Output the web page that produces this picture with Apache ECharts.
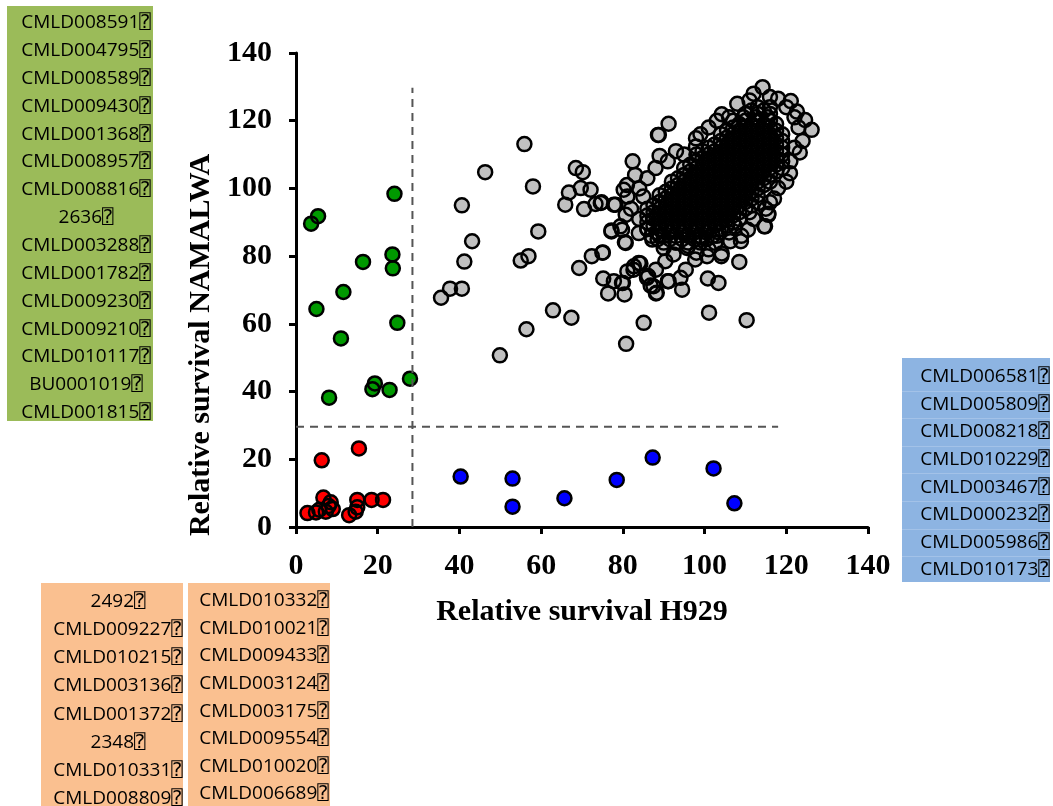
<!DOCTYPE html>
<html>
<head>
<meta charset="utf-8">
<title>Relative survival H929 vs NAMALWA</title>
<script src="https://cdn.jsdelivr.net/npm/echarts@6/dist/echarts.min.js"></script>
<style>
  html, body { margin: 0; padding: 0; background: #fff; }
  #chart { width: 1053px; height: 806px; }
</style>
</head>
<body>
<div id="chart"></div>
<script>
// axis setup
var axisMin = 0;
var axisMax = 140;
var axisStep = 20;

// cut-off lines (H929 ~28.5%, NAMALWA ~29.8%)
var cutX = [[28.5, 0], [28.5, 129.7]];
var cutY = [[0, 29.6], [118, 29.6]];

// hits: sensitive in both lines
var redPoints = [
  [6.3, 19.7], [15.4, 23.2], [2.8, 4.1], [6.7, 8.7], [8.5, 7.3], [5.7, 5.1],
  [7.3, 4.5], [9.0, 5.3], [13.0, 3.5], [14.6, 4.5], [15.0, 5.8], [15.0, 8.0],
  [18.5, 8.0], [21.3, 8.0], [4.9, 4.3], [8.0, 6.2]
];

// sensitive in H929 only
var greenPoints = [
  [24.1, 98.4], [3.7, 89.6], [5.4, 91.8], [16.4, 78.3], [23.6, 80.5],
  [23.7, 76.4], [11.6, 69.4], [5.0, 64.4], [24.8, 60.3], [11.0, 55.7],
  [8.1, 38.2], [18.7, 40.7], [19.3, 42.4], [22.9, 40.5], [27.9, 43.8]
];

// sensitive in NAMALWA only
var bluePoints = [
  [40.3, 14.9], [53.0, 14.3], [53.0, 6.0], [65.7, 8.5],
  [78.5, 13.9], [87.3, 20.5], [102.2, 17.3], [107.3, 7.0]
];

// everything else, scattered points
var greyPoints = [
  [55.9, 113.1], [46.3, 104.8], [40.6, 95.0], [58.0, 100.6], [68.5, 106.0], [70.2, 104.8],
  [66.8, 98.8], [69.7, 100.1], [72.1, 99.6], [65.9, 95.2], [70.5, 93.9], [73.3, 95.4],
  [74.6, 95.7], [82.4, 108.0], [88.8, 115.8], [91.2, 119.1], [89.0, 109.6], [43.1, 84.4],
  [41.2, 78.4], [59.3, 87.3], [55.0, 78.7], [56.9, 80.0], [37.7, 70.4], [40.6, 70.4],
  [35.5, 67.7], [62.9, 64.0], [67.4, 61.8], [56.4, 58.4], [49.9, 50.7], [69.3, 76.5],
  [72.4, 80.0], [75.0, 81.0], [75.2, 73.4], [76.4, 69.0], [77.8, 72.6], [80.4, 68.7],
  [80.0, 72.1], [85.1, 60.3], [80.8, 54.1], [77.2, 87.3], [80.7, 83.9], [79.4, 88.8],
  [80.7, 92.2], [78.2, 95.2], [80.2, 99.6], [81.1, 97.6], [85.0, 97.6], [83.9, 78.0],
  [82.6, 76.0], [86.2, 74.1], [87.5, 71.1], [88.3, 69.2], [91.2, 72.6], [94.1, 73.6],
  [94.5, 70.1], [95.4, 76.0], [90.4, 78.5], [88.1, 76.0],
  [114.2, 129.9], [88.6, 115.8], [126.2, 117.3], [123.3, 110.6], [120.9, 104.5],
  [118.0, 100.1], [115.6, 92.5], [114.6, 88.8], [108.5, 78.3], [103.4, 72.1], [100.8, 73.4],
  [101.1, 63.3], [110.3, 61.1], [121.1, 125.8], [91.0, 72.6], [88.1, 69.0], [104.1, 80.0],
  [110.6, 87.8], [104.2, 121.9], [97.9, 114.8], [97.9, 112.4], [124.6, 120.2], [122.6, 122.7],
  [86.8, 71.3], [85.9, 73.6], [79.8, 72.1], [81.1, 75.5], [82.7, 77.0], [84.3, 77.8],
  [92.4, 80.5], [75.1, 81.1], [74.8, 95.9], [77.8, 95.2], [77.2, 87.6], [80.5, 84.1],
  [79.8, 87.8], [83.9, 86.8], [87.2, 84.9], [90.0, 82.4], [95.7, 82.4], [97.7, 79.0],
  [99.3, 85.4], [100.6, 80.0], [102.6, 83.9], [104.2, 80.8], [106.3, 84.4], [108.9, 84.4],
  [107.5, 88.8], [114.8, 88.8], [115.6, 92.2], [116.0, 95.9], [113.2, 95.7],
  [84.0, 100.0], [86.0, 103.0], [88.0, 106.0], [91.0, 108.0], [93.0, 111.0], [95.0, 110.0],
  [99.0, 116.0], [101.0, 118.0], [103.0, 120.0], [106.0, 121.0], [108.0, 125.0], [111.0, 126.0],
  [112.0, 128.0], [116.0, 127.0], [118.0, 126.5], [120.0, 124.0], [122.0, 121.0], [123.0, 118.0],
  [124.0, 114.0], [122.0, 112.0], [121.0, 108.0], [120.0, 102.0], [119.0, 106.0],
  [117.0, 97.0], [115.0, 94.0], [112.0, 91.0], [111.0, 93.0], [109.0, 86.0], [106.0, 87.0],
  [103.0, 86.0], [101.0, 82.0], [98.0, 81.0], [96.0, 83.0], [93.0, 84.0], [89.0, 86.0],
  [86.0, 88.0], [84.0, 91.0], [82.0, 94.0], [81.0, 101.0], [83.0, 104.0]
];

// dense core of the cloud, one row of H929 values per NAMALWA level
var greyCoreRows = [
  [84, [90, 93, 96, 99]],
  [85, [88.5, 91.5, 94.5, 97.5, 100.5]],
  [86, [87, 90, 93, 96, 99, 102]],
  [87, [88.5, 91.5, 94.5, 97.5, 100.5, 103.5]],
  [88, [86, 89, 92, 95, 98, 101, 104]],
  [89, [87.5, 90.5, 93.5, 96.5, 99.5, 102.5, 105.5]],
  [90, [86, 89, 92, 95, 98, 101, 104, 107]],
  [91, [87.5, 90.5, 93.5, 96.5, 99.5, 102.5, 105.5, 108.5]],
  [92, [86, 89, 92, 95, 98, 101, 104, 107]],
  [93, [87.5, 90.5, 93.5, 96.5, 99.5, 102.5, 105.5, 108.5]],
  [94, [86, 89, 92, 95, 98, 101, 104, 107, 110]],
  [95, [87.5, 90.5, 93.5, 96.5, 99.5, 102.5, 105.5, 108.5, 111.5]],
  [96, [89, 92, 95, 98, 101, 104, 107, 110]],
  [97, [90.5, 93.5, 96.5, 99.5, 102.5, 105.5, 108.5, 111.5]],
  [98, [89, 92, 95, 98, 101, 104, 107, 110, 113]],
  [99, [90.5, 93.5, 96.5, 99.5, 102.5, 105.5, 108.5, 111.5]],
  [100, [92, 95, 98, 101, 104, 107, 110, 113]],
  [101, [93.5, 96.5, 99.5, 102.5, 105.5, 108.5, 111.5, 114.5]],
  [102, [92, 95, 98, 101, 104, 107, 110, 113, 116]],
  [103, [93.5, 96.5, 99.5, 102.5, 105.5, 108.5, 111.5, 114.5]],
  [104, [95, 98, 101, 104, 107, 110, 113, 116]],
  [105, [96.5, 99.5, 102.5, 105.5, 108.5, 111.5, 114.5, 117.5]],
  [106, [95, 98, 101, 104, 107, 110, 113, 116]],
  [107, [96.5, 99.5, 102.5, 105.5, 108.5, 111.5, 114.5, 117.5]],
  [108, [98, 101, 104, 107, 110, 113, 116, 119]],
  [109, [99.5, 102.5, 105.5, 108.5, 111.5, 114.5, 117.5]],
  [110, [98, 101, 104, 107, 110, 113, 116, 119]],
  [111, [99.5, 102.5, 105.5, 108.5, 111.5, 114.5, 117.5]],
  [112, [101, 104, 107, 110, 113, 116, 119]],
  [113, [102.5, 105.5, 108.5, 111.5, 114.5, 117.5]],
  [114, [104, 107, 110, 113, 116, 119]],
  [115, [105.5, 108.5, 111.5, 114.5, 117.5]],
  [116, [104, 107, 110, 113, 116, 119]],
  [117, [105.5, 108.5, 111.5, 114.5, 117.5]],
  [118, [107, 110, 113, 116]],
  [119, [108.5, 111.5, 114.5, 117.5]],
  [120, [107, 110, 113, 116]],
  [121, [109.5, 112.5, 115.5]],
  [122, [110, 113, 116]],
  [123, [111.5, 114.5]],
  [124, [113, 116]]
];

// compound lists next to the plot
var greenLabels = [
  "CMLD008591⍰", "CMLD004795⍰", "CMLD008589⍰", "CMLD009430⍰", "CMLD001368⍰",
  "CMLD008957⍰", "CMLD008816⍰", "2636⍰", "CMLD003288⍰", "CMLD001782⍰",
  "CMLD009230⍰", "CMLD009210⍰", "CMLD010117⍰", "BU0001019⍰", "CMLD001815⍰"
];
var blueLabels = [
  "CMLD006581⍰", "CMLD005809⍰", "CMLD008218⍰", "CMLD010229⍰",
  "CMLD003467⍰", "CMLD000232⍰", "CMLD005986⍰", "CMLD010173⍰"
];
var redLabelsLeft = [
  "2492⍰", "CMLD009227⍰", "CMLD010215⍰", "CMLD003136⍰",
  "CMLD001372⍰", "2348⍰", "CMLD010331⍰", "CMLD008809⍰"
];
var redLabelsRight = [
  "CMLD010332⍰", "CMLD010021⍰", "CMLD009433⍰", "CMLD003124⍰",
  "CMLD003175⍰", "CMLD009554⍰", "CMLD010020⍰", "CMLD006689⍰"
];

var serif = "'Liberation Serif', 'DejaVu Serif', serif";
var listFont = "'Open Sans', 'DejaVu Sans', 'DejaVu Sans Mono', sans-serif";

var greyAll = greyCoreRows.flatMap(function (row) {
  return row[1].map(function (x) { return [x, row[0]]; });
}).concat(greyPoints);

function fillSeries(data, color) {
  return {
    type: "scatter",
    data: data,
    symbolSize: 14,
    itemStyle: { color: color, borderWidth: 0, opacity: 1 },
    silent: true,
  };
}

// outlines go in their own series so they sit over all fills (like the original)
function ringSeries(data) {
  return {
    type: "scatter",
    data: data,
    symbolSize: 14,
    itemStyle: {
      color: "rgba(0,0,0,0)",
      borderColor: "#000",
      borderWidth: 2.5,
      opacity: 1,
    },
    silent: true,
  };
}

function dashSeries(data) {
  return {
    type: "line",
    data: data,
    symbol: "none",
    silent: true,
    lineStyle: { color: "#555", width: 2, type: [8, 6] },
  };
}

function listBox(x, y, w, h, fill, labels, cx, firstY, step, rules) {
  var items = [
    { type: "rect", shape: { x: x, y: y, width: w, height: h }, style: { fill: fill }, silent: true },
  ];
  if (rules) {
    for (var k = 1; k < labels.length; k++) {
      var ly = Math.round(firstY + (k - 0.5) * step) + 0.5;
      items.push({
        type: "line",
        shape: { x1: x, y1: ly, x2: x + w, y2: ly },
        style: { stroke: rules, lineWidth: 1 },
        silent: true,
      });
    }
  }
  labels.forEach(function (t, i) {
    items.push({
      type: "text",
      x: cx,
      y: firstY + i * step,
      style: {
        text: t,
        fill: "#000",
        font: "19px " + listFont,
        align: "center",
        verticalAlign: "middle",
      },
      silent: true,
    });
  });
  return items;
}

var chart = echarts.init(document.getElementById("chart"), null, { renderer: "canvas" });

var axisCommon = {
  type: "value",
  min: axisMin,
  max: axisMax,
  interval: axisStep,
  nameLocation: "middle",
  nameTextStyle: { fontFamily: serif, fontWeight: "bold", fontSize: 30, color: "#000" },
  axisLine: { show: true, onZero: false, lineStyle: { color: "#000", width: 3 } },
  axisTick: { show: true, inside: false, length: 7, lineStyle: { color: "#000", width: 3 } },
  splitLine: { show: false },
  axisLabel: { fontFamily: serif, fontWeight: "bold", fontSize: 30, color: "#000" },
};

chart.setOption({
  animation: false,
  backgroundColor: "#fff",
  grid: { left: 296, right: 185, top: 53, bottom: 279 },
  xAxis: Object.assign({}, axisCommon, {
    name: "Relative survival H929",
    nameGap: 70,
    axisLabel: Object.assign({}, axisCommon.axisLabel, { margin: 24 }),
  }),
  yAxis: Object.assign({}, axisCommon, {
    name: "Relative survival NAMALWA",
    nameGap: 78,
    nameTextStyle: Object.assign({}, axisCommon.nameTextStyle, { padding: [0, 110, 0, 0] }),
    axisLabel: Object.assign({}, axisCommon.axisLabel, { margin: 24 }),
  }),
  series: [
    dashSeries(cutX),
    dashSeries(cutY),
    fillSeries(greyAll, "#C0C0C0"),
    ringSeries(greyAll),
    fillSeries(redPoints, "#FF0000"),
    ringSeries(redPoints),
    fillSeries(greenPoints, "#009900"),
    ringSeries(greenPoints),
    fillSeries(bluePoints, "#0000FF"),
    ringSeries(bluePoints),
  ],
  graphic: []
    .concat(listBox(7, 6, 146, 415, "#9BBB59", greenLabels, 86, 22.7, 27.86))
    .concat(listBox(902, 358, 148, 224, "#8DB4E2", blueLabels, 985, 376.7, 27.6, "#A3C2E8"))
    .concat(listBox(41, 583, 142, 230, "#FAC090", redLabelsLeft, 118, 601.7, 28.1))
    .concat(listBox(188, 583, 142, 230, "#FAC090", redLabelsRight, 264, 600.7, 27.6)),
});
</script>
</body>
</html>
